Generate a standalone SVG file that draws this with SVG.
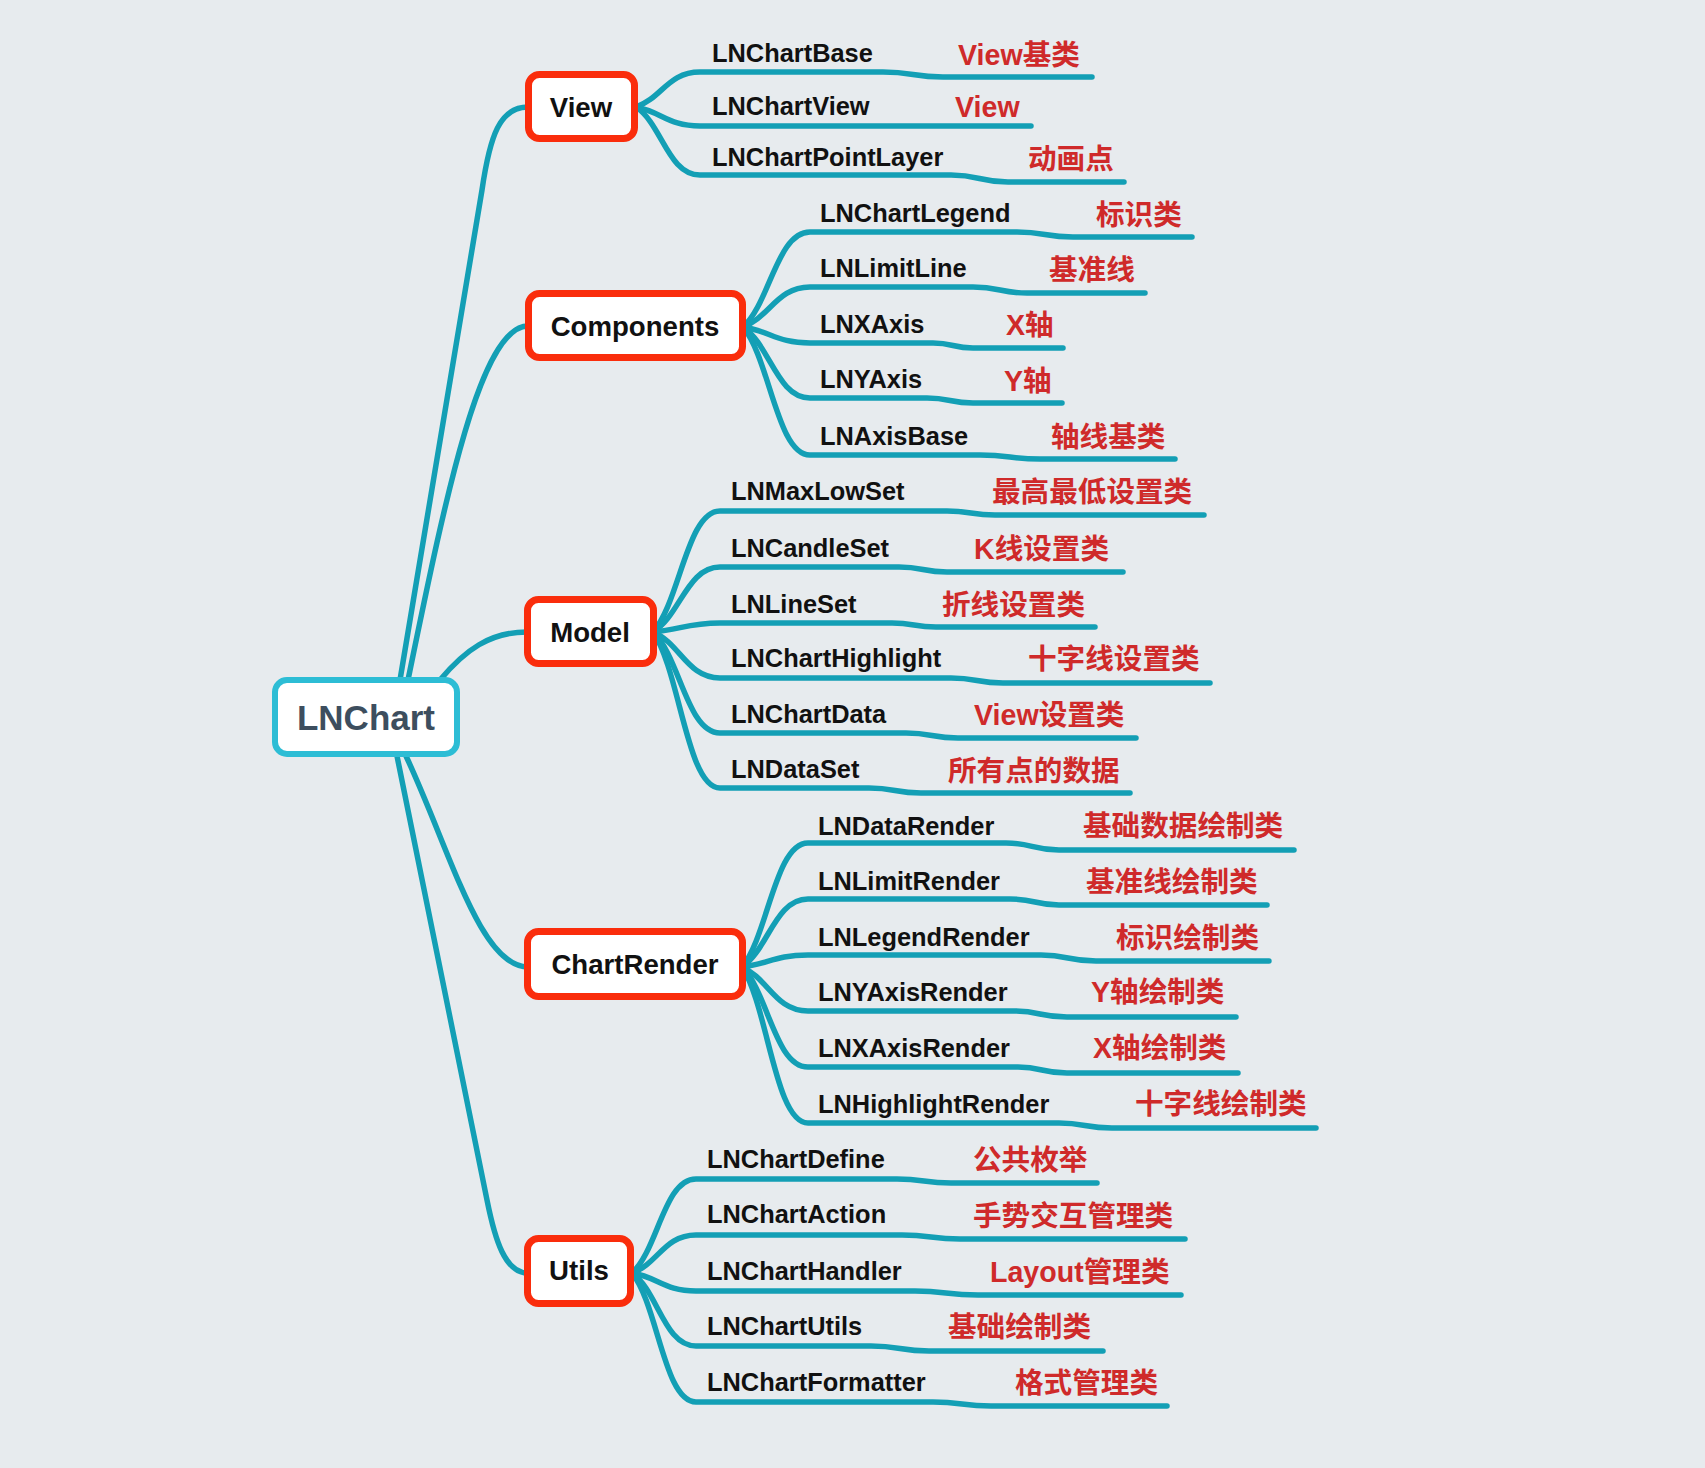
<svg xmlns="http://www.w3.org/2000/svg" width="1705" height="1468" viewBox="0 0 1705 1468">
<style>
.conn{fill:none;stroke:#139fb5;stroke-width:5.5;stroke-linecap:round;stroke-linejoin:round}
.box{fill:#fff;stroke:#fa2d0c;stroke-width:7}
.root{fill:#fff;stroke:#2dbdd5;stroke-width:6}
.bt{font-family:"Liberation Sans",Arial,sans-serif;font-weight:bold;font-size:27.6px;fill:#111;text-anchor:middle}
.rt{font-family:"Liberation Sans",Arial,sans-serif;font-weight:bold;font-size:35px;fill:#3d4e5e;text-anchor:middle}
.lbl{font-family:"Liberation Sans",Arial,sans-serif;font-weight:bold;font-size:25.4px;fill:#111}
.note{font-family:"Liberation Sans","Noto Sans CJK SC",sans-serif;font-weight:bold;font-size:28.6px;fill:#cf2a2a}
</style>
<rect x="0" y="0" width="1705" height="1468" fill="#e7ebee"/>
<g id="connectors">
<path class="conn" d="M400,680 L482,190 C490,135 500,107 528,107"/>
<path class="conn" d="M408,680 C445,500 480,326 528,326"/>
<path class="conn" d="M440,680 C465,650 490,632 527,632"/>
<path class="conn" d="M406,756 C450,850 480,967 528,967"/>
<path class="conn" d="M397,756 L487,1200 C495,1240 505,1273 528,1273"/>

<path class="conn" d="M636,107 C662,98 668,72 700,72 H883 C913,72 913,77 943,77 H1092"/>
<path class="conn" d="M636,107 C662,112 668,126 700,126 H1031"/>
<path class="conn" d="M636,107 C662,124 668,175 700,175 H951 C979.5,175 979.5,182 1008,182 H1124"/>

<path class="conn" d="M743,327 C770,303 777,232 810,232 H1017 C1045,232 1045,237 1073,237 H1192"/>
<path class="conn" d="M743,327 C770,317 777,287 810,287 H973 C1000,287 1000,293 1027,293 H1145"/>
<path class="conn" d="M743,327 C770,331 777,343 810,343 H933 C953,343 953,348 973,348 H1063"/>
<path class="conn" d="M743,327 C770,345 777,398 810,398 H927 C950,398 950,403 973,403 H1062"/>
<path class="conn" d="M743,327 C770,359 777,455 810,455 H980 C1010,455 1010,459 1040,459 H1175"/>

<path class="conn" d="M653,632 C680,602 687,511 720,511 H947 C971,511 971,515 995,515 H1204"/>
<path class="conn" d="M653,632 C680,616 687,567 720,567 H899 C923,567 923,572 947,572 H1123"/>
<path class="conn" d="M653,632 C680,630 687,623 720,623 H892 C914,623 914,627 936,627 H1095"/>
<path class="conn" d="M653,632 C680,643 687,678 720,678 H951 C977,678 977,683 1003,683 H1210"/>
<path class="conn" d="M653,632 C680,657 687,733 720,733 H906 C932,733 932,738 958,738 H1136"/>
<path class="conn" d="M653,632 C680,671 687,788 720,788 H869 C895,788 895,793 921,793 H1130"/>

<path class="conn" d="M742,967 C768,936 775,843 808,843 H1006 C1032,843 1032,850 1059,850 H1294"/>
<path class="conn" d="M742,967 C768,950 775,899 808,899 H1010 C1035,899 1035,905 1059,905 H1267"/>
<path class="conn" d="M742,967 C768,964 775,955 808,955 H1041 C1068,955 1068,961 1096,961 H1269"/>
<path class="conn" d="M742,967 C768,978 775,1011 808,1011 H1014 C1040,1011 1040,1017 1067,1017 H1236"/>
<path class="conn" d="M742,967 C768,992 775,1067 808,1067 H1018 C1042,1067 1042,1073 1067,1073 H1238"/>
<path class="conn" d="M742,967 C768,1006 775,1123 808,1123 H1059 C1085,1123 1085,1128 1112,1128 H1316"/>

<path class="conn" d="M632,1273 C658,1250 664,1179 696,1179 H897 C924,1179 924,1183 951,1183 H1097"/>
<path class="conn" d="M632,1273 C658,1264 664,1235 696,1235 H902 C931,1235 931,1239 960,1239 H1185"/>
<path class="conn" d="M632,1273 C658,1277 664,1291 696,1291 H915 C946,1291 946,1295 978,1295 H1181"/>
<path class="conn" d="M632,1273 C658,1291 664,1346 696,1346 H871 C900,1346 900,1351 929,1351 H1103"/>
<path class="conn" d="M632,1273 C658,1305 664,1402 696,1402 H933 C962,1402 962,1406 991,1406 H1167"/>
</g>

<g id="node-LNChart"><rect class="root" x="275" y="680" width="182" height="74" rx="12"/><text class="rt" x="366" y="730">LNChart</text></g>
<g id="node-View"><rect class="box" x="528.5" y="74.5" width="106" height="64" rx="11"/><text class="bt" x="581" y="117">View</text></g>
<g id="node-Components"><rect class="box" x="528.5" y="293.5" width="214" height="64" rx="11"/><text class="bt" x="635" y="336">Components</text></g>
<g id="node-Model"><rect class="box" x="527.5" y="599.5" width="126" height="64" rx="11"/><text class="bt" x="590" y="642">Model</text></g>
<g id="node-ChartRender"><rect class="box" x="527.5" y="931.5" width="215" height="65" rx="11"/><text class="bt" x="635" y="974">ChartRender</text></g>
<g id="node-Utils"><rect class="box" x="527.5" y="1238.5" width="103" height="65" rx="11"/><text class="bt" x="579" y="1280">Utils</text></g>

<g id="node-LNChartBase"><text class="lbl" x="712" y="62">LNChartBase</text><text class="note" x="958" y="65">View基类</text></g>
<g id="node-LNChartView"><text class="lbl" x="712" y="115">LNChartView</text><text class="note" x="955" y="117">View</text></g>
<g id="node-LNChartPointLayer"><text class="lbl" x="712" y="166">LNChartPointLayer</text><text class="note" x="1028" y="169">动画点</text></g>

<g id="node-LNChartLegend"><text class="lbl" x="820" y="222">LNChartLegend</text><text class="note" x="1096" y="225">标识类</text></g>
<g id="node-LNLimitLine"><text class="lbl" x="820" y="277">LNLimitLine</text><text class="note" x="1049" y="280">基准线</text></g>
<g id="node-LNXAxis"><text class="lbl" x="820" y="333">LNXAxis</text><text class="note" x="1006" y="335">X轴</text></g>
<g id="node-LNYAxis"><text class="lbl" x="820" y="388">LNYAxis</text><text class="note" x="1004" y="391">Y轴</text></g>
<g id="node-LNAxisBase"><text class="lbl" x="820" y="445">LNAxisBase</text><text class="note" x="1051" y="447">轴线基类</text></g>

<g id="node-LNMaxLowSet"><text class="lbl" x="731" y="500">LNMaxLowSet</text><text class="note" x="992" y="502">最高最低设置类</text></g>
<g id="node-LNCandleSet"><text class="lbl" x="731" y="557">LNCandleSet</text><text class="note" x="974" y="559">K线设置类</text></g>
<g id="node-LNLineSet"><text class="lbl" x="731" y="613">LNLineSet</text><text class="note" x="942" y="615">折线设置类</text></g>
<g id="node-LNChartHighlight"><text class="lbl" x="731" y="667">LNChartHighlight</text><text class="note" x="1028" y="669">十字线设置类</text></g>
<g id="node-LNChartData"><text class="lbl" x="731" y="723">LNChartData</text><text class="note" x="974" y="725">View设置类</text></g>
<g id="node-LNDataSet"><text class="lbl" x="731" y="778">LNDataSet</text><text class="note" x="948" y="781">所有点的数据</text></g>

<g id="node-LNDataRender"><text class="lbl" x="818" y="835">LNDataRender</text><text class="note" x="1083" y="836">基础数据绘制类</text></g>
<g id="node-LNLimitRender"><text class="lbl" x="818" y="890">LNLimitRender</text><text class="note" x="1086" y="892">基准线绘制类</text></g>
<g id="node-LNLegendRender"><text class="lbl" x="818" y="946">LNLegendRender</text><text class="note" x="1116" y="948">标识绘制类</text></g>
<g id="node-LNYAxisRender"><text class="lbl" x="818" y="1001">LNYAxisRender</text><text class="note" x="1091" y="1002">Y轴绘制类</text></g>
<g id="node-LNXAxisRender"><text class="lbl" x="818" y="1057">LNXAxisRender</text><text class="note" x="1093" y="1058">X轴绘制类</text></g>
<g id="node-LNHighlightRender"><text class="lbl" x="818" y="1113">LNHighlightRender</text><text class="note" x="1135" y="1114">十字线绘制类</text></g>

<g id="node-LNChartDefine"><text class="lbl" x="707" y="1168">LNChartDefine</text><text class="note" x="973" y="1170">公共枚举</text></g>
<g id="node-LNChartAction"><text class="lbl" x="707" y="1223">LNChartAction</text><text class="note" x="973" y="1226">手势交互管理类</text></g>
<g id="node-LNChartHandler"><text class="lbl" x="707" y="1280">LNChartHandler</text><text class="note" x="990" y="1282">Layout管理类</text></g>
<g id="node-LNChartUtils"><text class="lbl" x="707" y="1335">LNChartUtils</text><text class="note" x="948" y="1337">基础绘制类</text></g>
<g id="node-LNChartFormatter"><text class="lbl" x="707" y="1391">LNChartFormatter</text><text class="note" x="1015" y="1393">格式管理类</text></g>
</svg>
